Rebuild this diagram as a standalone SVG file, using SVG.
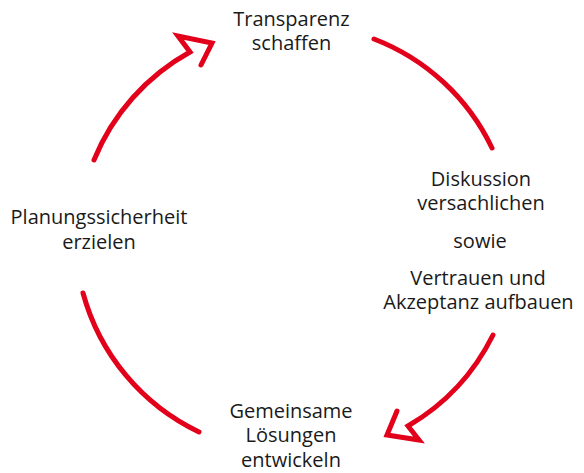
<svg xmlns="http://www.w3.org/2000/svg" width="584" height="473" viewBox="0 0 584 473">
<style>
.t{font-family:"Open Sans","Noto Sans","DejaVu Sans",sans-serif;font-size:20px;fill:#1a1a1a;text-anchor:middle}
.c{fill:none;stroke:#e2001a;stroke-width:5;stroke-linecap:round;stroke-linejoin:miter}
</style>
<rect width="584" height="473" fill="#fff"/>
<g id="connectors">
<path class="c" d="M94,160 A217,217 0 0 1 190,52 L178,36 L212,43 L201,65"/>
<path class="c" d="M374,39 A217,217 0 0 1 492,148"/>
<path class="c" d="M493,335 A217,217 0 0 1 408,426 L419,440 L387,435 L397,411"/>
<path class="c" d="M83,293 A217,217 0 0 0 199,432"/>
</g>
<g id="node-top">
<text class="t" x="291.5" y="25.7">Transparenz</text>
<text class="t" x="291.5" y="50">schaffen</text>
</g>
<g id="node-right">
<text class="t" x="481" y="186">Diskussion</text>
<text class="t" x="481" y="209.5">versachlichen</text>
<text class="t" x="480" y="248">sowie</text>
<text class="t" x="478" y="285">Vertrauen und</text>
<text class="t" x="478.5" y="308.5">Akzeptanz aufbauen</text>
</g>
<g id="node-bottom">
<text class="t" x="291" y="418">Gemeinsame</text>
<text class="t" x="291" y="442.3">Lösungen</text>
<text class="t" x="291" y="466.6">entwickeln</text>
</g>
<g id="node-left">
<text class="t" x="99" y="224.3">Planungssicherheit</text>
<text class="t" x="99" y="249">erzielen</text>
</g>
</svg>
